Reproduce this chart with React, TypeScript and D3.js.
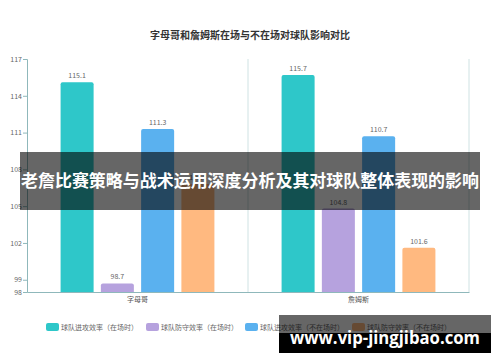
import React, { useEffect, useRef } from 'react'
import * as d3 from 'd3'

// data
const players = ['字母哥', '詹姆斯']
const seriesNames = [
  '球队进攻效率（在场时）',
  '球队防守效率（在场时）',
  '球队进攻效率（不在场时）',
  '球队防守效率（不在场时）',
]
const offOn = [115.1, 115.7]
const defOn = [98.7, 104.8]
const offOff = [111.3, 110.7]
const defOff = [106.8, 101.6]
const yTicks = [98, 99, 102, 105, 108, 111, 114, 117]
const colors = ['#2ec7c9', '#b6a2de', '#5ab1ef', '#ffb980']

const title = '字母哥和詹姆斯在场与不在场对球队影响对比'
const banner = '老詹比赛策略与战术运用深度分析及其对球队整体表现的影响'
const watermark = 'www.vip-jingjibao.com'

const App = () => {
  const svgRef = useRef<SVGSVGElement>(null)

  useEffect(() => {
    const w = 500
    const h = 362
    const svg = d3.select(svgRef.current)
      .attr('width', w)
      .attr('height', h)
      .style('display', 'block')
      .style('position', 'absolute')
      .style('left', '0px')
      .style('top', '0px')
    svg.selectAll('*').remove()

    const font = '"Noto Sans CJK SC", "Noto Sans", sans-serif'
    const series = [offOn, defOn, offOff, defOff]

    const left = 27, right = 469, top = 59, bottom = 292

    const x0 = d3.scaleBand().domain(players).range([left, right]).padding(0)
    const bw = x0.bandwidth()
    const x1 = d3.scaleBand<number>()
      .domain(d3.range(series.length))
      .range([bw * 0.152, bw * 0.848])
      .paddingInner(0.18)
    const y = d3.scaleLinear().domain([98, 117]).range([bottom, top])

    // title
    svg.append('text')
      .attr('x', 250).attr('y', 39)
      .attr('text-anchor', 'middle')
      .style('font-family', font)
      .style('font-size', '10px')
      .style('font-weight', 'bold')
      .attr('fill', '#333')
      .text(title)

    const axisColor = '#8fb8bb'

    // vertical separators at category boundaries
    players.forEach(p => {
      const xr = (x0(p) as number) + bw
      svg.append('line')
        .attr('x1', xr).attr('x2', xr)
        .attr('y1', top).attr('y2', bottom)
        .attr('stroke', '#cfe2e3').attr('stroke-width', 1)
    })

    // y axis
    const yAxis = d3.axisLeft(y).tickValues(yTicks).tickSize(4).tickFormat(d => String(d))
    const gy = svg.append('g').attr('transform', `translate(${left},0)`).call(yAxis)
    gy.select('.domain').attr('stroke', axisColor)
    gy.selectAll('.tick line').attr('stroke', axisColor)
    gy.selectAll('.tick text')
      .attr('fill', '#666')
      .attr('x', -5)
      .style('font-family', font)
      .style('font-size', '7px')

    // x axis
    const xAxis = d3.axisBottom(x0).tickSize(0).tickPadding(5)
    const gx = svg.append('g').attr('transform', `translate(0,${bottom})`).call(xAxis)
    gx.select('.domain').attr('stroke', axisColor)
    gx.selectAll('.tick text')
      .attr('fill', '#555')
      .style('font-family', font)
      .style('font-size', '7px')

    // bars
    players.forEach((p, i) => {
      const g = svg.append('g').attr('transform', `translate(${x0(p)},0)`)
      series.forEach((s, k) => {
        const v = s[i]
        const bx = x1(k) as number
        const by = y(v)
        const r = 2
        const bwid = x1.bandwidth()
        g.append('path')
          .attr('d', `M${bx},${bottom}V${by + r}Q${bx},${by} ${bx + r},${by}H${bx + bwid - r}Q${bx + bwid},${by} ${bx + bwid},${by + r}V${bottom}Z`)
          .attr('fill', colors[k])
        g.append('text')
          .attr('x', bx + bwid / 2).attr('y', by - 4)
          .attr('text-anchor', 'middle')
          .style('font-family', font)
          .style('font-size', '7px')
          .attr('fill', '#666')
          .text(v.toFixed(1))
      })
    })

    // legend
    const legendX = [46, 146, 245, 352]
    seriesNames.forEach((name, k) => {
      svg.append('rect')
        .attr('x', legendX[k]).attr('y', 323)
        .attr('width', 13).attr('height', 8)
        .attr('rx', 2)
        .attr('fill', colors[k])
      svg.append('text')
        .attr('x', legendX[k] + 15).attr('y', 330)
        .style('font-family', font)
        .style('font-size', '7px')
        .attr('fill', '#666')
        .text(name)
    })

    // overlay banner
    svg.append('rect')
      .attr('x', 20).attr('y', 152)
      .attr('width', 460).attr('height', 58)
      .attr('fill', 'rgba(0,0,0,0.6)')
    svg.append('text')
      .attr('x', 250).attr('y', 187)
      .attr('text-anchor', 'middle')
      .attr('textLength', 458)
      .attr('lengthAdjust', 'spacingAndGlyphs')
      .style('font-family', font)
      .style('font-size', '17px')
      .style('font-weight', 'bold')
      .attr('fill', '#fff')
      .text(banner)

    // watermark
    svg.append('rect')
      .attr('x', 279).attr('y', 315)
      .attr('width', 212).attr('height', 18)
      .attr('fill', 'rgba(0,0,0,0.6)')
    svg.append('rect')
      .attr('x', 279).attr('y', 333)
      .attr('width', 212).attr('height', 20)
      .attr('fill', '#000')
    svg.append('text')
      .attr('x', 385).attr('y', 344)
      .attr('text-anchor', 'middle')
      .attr('textLength', 190)
      .attr('lengthAdjust', 'spacingAndGlyphs')
      .style('font-family', '"Open Sans", "DejaVu Sans", sans-serif')
      .style('font-size', '17px')
      .style('font-weight', 'bold')
      .attr('fill', '#fff')
      .text(watermark)
  }, [])

  return <svg ref={svgRef}></svg>
}

export default App
